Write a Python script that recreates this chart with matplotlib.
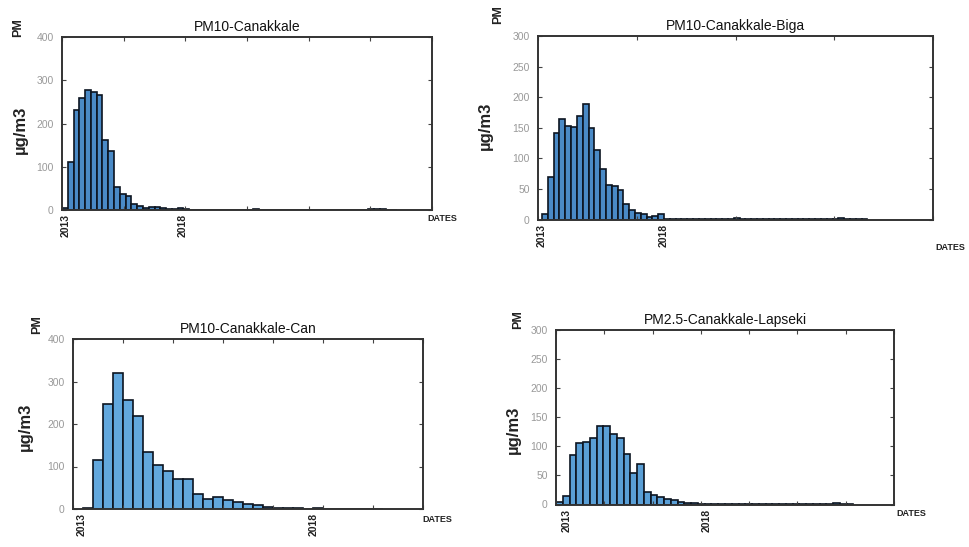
import numpy as np
import matplotlib
matplotlib.use("Agg")
import matplotlib.pyplot as plt

plt.rcParams['font.family'] = ['Liberation Sans', 'DejaVu Sans']

# --- data (bar heights per bin, µg/m3) ---
titles = ['PM10-Canakkale', 'PM10-Canakkale-Biga', 'PM10-Canakkale-Can', 'PM2.5-Canakkale-Lapseki']

vals_canakkale = [4, 111, 232, 259, 277, 272, 265, 162, 136, 54, 36, 33, 13, 10, 4, 8, 6, 4, 3, 2, 4,
                  2, 1, 1, 1, 1, 1, 1, 1, 1, 1, 1, 1, 2, 1, 1, 1, 1, 1, 1, 1, 1, 1, 1, 1, 1, 1, 1,
                  1, 1, 1, 1, 1, 2, 2, 2, 1, 1]
vals_biga = [9, 69, 141, 164, 153, 152, 170, 189, 150, 113, 82, 57, 54, 49, 25, 15, 10, 9, 4, 5, 9,
             1, 1, 1, 1, 1, 1, 1, 1, 1, 1, 1, 1, 2, 1, 1, 1, 1, 1, 1, 1, 1, 1, 1, 1, 1, 1, 1,
             1, 1, 1, 2, 1, 1, 1, 1]
vals_can = [2, 116, 247, 320, 257, 219, 134, 103, 90, 70, 70, 36, 24, 29, 21, 16, 12, 9, 5, 3, 2, 2,
            1, 3, 1, 1, 1, 1, 1, 1]
vals_lapseki = [5, 15, 85, 105, 108, 114, 135, 135, 121, 115, 87, 54, 70, 21, 17, 13, 10, 7, 4, 3, 2,
                1, 1, 1, 1, 1, 1, 1, 1, 1, 1, 1, 1, 1, 1, 1, 1, 1, 1, 1, 1, 2, 1, 1]
all_vals = [vals_canakkale, vals_biga, vals_can, vals_lapseki]

year_labels = ['2013', '2018']

# --- layout (per panel) ---
W, H = 969, 547
def px(x, y):
    return x / W, 1 - y / H

# axes box in pixels: left, top, right, bottom
boxes = [(62, 37, 432, 210), (538, 36, 933, 219.5), (73, 339, 423, 509), (556, 330, 894, 504.5)]
nbins = [64, 68, 35, 50]
nint = [6, 4, 7, 7]
starts = [0, 0.7, 1, 0]
year_pos = [(0.7, 20.9), (0.7, 21.6), (0.9, 24.1), (1.6, 22.3)]
ymax = [400, 300, 400, 300]
ystep = [100, 50, 100, 50]
colors = ['#4a8ac6', '#4a8ac6', '#62a8de', '#5a9fd6']
pm_pos = [(18, 28), (498, 15), (37, 325), (518, 320)]
unit_pos = [(20, 130), (485, 126), (25, 427), (513, 430)]
dates_pos = [(442, 218), (950, 247), (437, 520), (911, 513)]

fig = plt.figure(figsize=(9.69, 5.47), dpi=100)

for i in range(4):
    l, t, r, b = boxes[i]
    ax = fig.add_axes([l / W, 1 - b / H, (r - l) / W, (b - t) / H])
    v = all_vals[i]
    x = starts[i] + np.arange(len(v))
    ax.bar(x, v, width=1, align='edge', color=colors[i], edgecolor='#0c1420', linewidth=1.2)

    ax.set_xlim(0, nbins[i])
    ax.set_ylim(0, ymax[i])
    ax.set_xticks(np.linspace(0, nbins[i], nint[i] + 1))
    ax.set_xticklabels([])
    ax.set_xticks(year_pos[i], minor=True)
    ax.set_xticklabels(year_labels, minor=True, rotation=90, fontsize=7.5, fontweight='bold', color='#222')
    ax.tick_params(axis='x', which='minor', length=0, pad=3)
    ax.tick_params(axis='x', which='major', direction='in', top=True, bottom=True, length=3,
                   color='#444')
    ax.set_yticks(np.arange(0, ymax[i] + 1, ystep[i]))
    ax.tick_params(axis='y', direction='in', left=True, right=True, length=3, color='#444',
                   labelsize=7.5, labelcolor='#999', pad=6)
    for s in ax.spines.values():
        s.set_linewidth(1.4)
        s.set_color('#333')
    ax.set_title(titles[i], fontsize=10, color='#111', pad=4)

    fig.text(*px(*pm_pos[i]), 'PM', rotation=90, fontsize=9, fontweight='bold',
             ha='center', va='center', color='#222')
    fig.text(*px(*unit_pos[i]), 'µg/m3', rotation=90, fontsize=12, fontweight='bold',
             ha='center', va='center', color='#222')
    fig.text(*px(*dates_pos[i]), 'DATES', fontsize=6.5, fontweight='bold',
             ha='center', va='center', color='#222')

fig.savefig('out.png', dpi=100)
